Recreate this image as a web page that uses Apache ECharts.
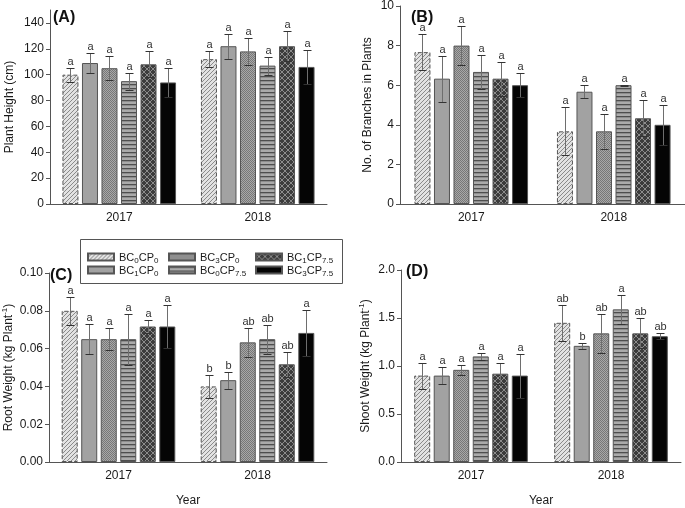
<!DOCTYPE html>
<html>
<head>
<meta charset="utf-8">
<script src="https://cdn.jsdelivr.net/npm/echarts@6/dist/echarts.min.js"></script>
<style>html,body{margin:0;padding:0;background:#fff}#main{width:685px;height:508px}</style>
</head>
<body>
<div id="main"></div>
<script>
"use strict";
var years = ['2017', '2018'];
var treatments = ['BC0CP0', 'BC1CP0', 'BC3CP0', 'BC0CP7.5', 'BC1CP7.5', 'BC3CP7.5'];

// rows = treatment, cols = [2017, 2018]
var heightMean = [[100, 112], [109, 122], [105, 118], [95, 107], [108, 122], [94, 106]];
var heightErr = [[5.5, 6], [8, 9.5], [9.5, 10.5], [6.5, 7], [10, 11.5], [11.5, 13]];
var heightLetter = [['a', 'a'], ['a', 'a'], ['a', 'a'], ['a', 'a'], ['a', 'a'], ['a', 'a']];

var branchMean = [[7.67, 3.67], [6.33, 5.67], [8.0, 3.67], [6.67, 6.0], [6.33, 4.33], [6.0, 4.0]];
var branchErr = [[0.9, 1.22], [1.17, 0.33], [1.0, 0.88], [0.88, 0.02], [0.86, 0.9], [0.6, 1.0]];
var branchLetter = [['a', 'a'], ['a', 'a'], ['a', 'a'], ['a', 'a'], ['a', 'a'], ['a', 'a']];

var rootMean = [[0.080, 0.040], [0.065, 0.0433], [0.065, 0.0633], [0.065, 0.065], [0.0717, 0.0517], [0.0717, 0.0683]];
var rootErr = [[0.0075, 0.006], [0.008, 0.0045], [0.006, 0.0075], [0.0135, 0.0077], [0.0036, 0.0067], [0.0113, 0.012]];
var rootLetter = [['a', 'b'], ['a', 'b'], ['a', 'ab'], ['a', 'ab'], ['a', 'ab'], ['a', 'a']];

var shootMean = [[0.90, 1.45], [0.90, 1.21], [0.96, 1.34], [1.10, 1.59], [0.92, 1.34], [0.90, 1.31]];
var shootErr = [[0.135, 0.185], [0.085, 0.03], [0.05, 0.205], [0.04, 0.15], [0.11, 0.155], [0.23, 0.03]];
var shootLetter = [['a', 'ab'], ['a', 'b'], ['a', 'ab'], ['a', 'a'], ['a', 'ab'], ['a', 'ab']];

var FONT = '"Liberation Sans", Arial, sans-serif';

//---------------- fill patterns
function makePattern(size, draw){
	var c = document.createElement('canvas'); c.width = size; c.height = size;
	var ctx = c.getContext('2d'); draw(ctx, size);
	return { image: c, repeat: 'repeat' };
}
var fills = [
	makePattern(4, function(ctx, s){
		ctx.fillStyle = '#e2e2e2'; ctx.fillRect(0, 0, s, s);
		ctx.strokeStyle = '#8a8a8a'; ctx.lineWidth = 1; ctx.beginPath();
		ctx.moveTo(0, s); ctx.lineTo(s, 0); ctx.moveTo(-1, 1); ctx.lineTo(1, -1); ctx.moveTo(s - 1, s + 1); ctx.lineTo(s + 1, s - 1);
		ctx.stroke();
	}),
	'#a2a2a2',
	makePattern(2, function(ctx){
		ctx.fillStyle = '#a8a8a8'; ctx.fillRect(0, 0, 2, 2);
		ctx.fillStyle = '#777'; ctx.fillRect(0, 0, 1, 1); ctx.fillRect(1, 1, 1, 1);
	}),
	makePattern(4, function(ctx, s){
		ctx.fillStyle = '#aaaaaa'; ctx.fillRect(0, 0, s, s);
		ctx.fillStyle = '#4e4e4e'; ctx.fillRect(0, 0, s, 1.3);
	}),
	makePattern(6, function(ctx, s){
		ctx.fillStyle = '#3c3c3c'; ctx.fillRect(0, 0, s, s);
		ctx.strokeStyle = '#8c8c8c'; ctx.lineWidth = 1; ctx.beginPath();
		ctx.moveTo(0, 0); ctx.lineTo(s, s); ctx.moveTo(0, s); ctx.lineTo(s, 0);
		ctx.stroke();
	}),
	'#050505'
];

var panels = [
	{ mean: heightMean, err: heightErr, letter: heightLetter },
	{ mean: branchMean, err: branchErr, letter: branchLetter },
	{ mean: rootMean, err: rootErr, letter: rootLetter },
	{ mean: shootMean, err: shootErr, letter: shootLetter }
];

var BAR_W = 16, BAR_PITCH = 19.52;

function makeRender(p){
	return function(params, api){
		var i = api.value(0), k = api.value(1), m = api.value(2), e = api.value(3);
		var hi = api.coord([i, m + e]), lo = api.coord([i, m - e]);
		var x = Math.round(hi[0] + (k - 2.5) * BAR_PITCH) + 0.5;
		var yh = Math.round(hi[1]) + 0.5, yl = Math.round(lo[1]) + 0.5;
		return { type: 'group', children: [
			{ type: 'line', shape: { x1: x, y1: yh, x2: x, y2: yl }, style: { stroke: '#6e6e6e', lineWidth: 1 } },
			{ type: 'line', shape: { x1: x - 4, y1: yh, x2: x + 4, y2: yh }, style: { stroke: '#333', lineWidth: 1 } },
			{ type: 'line', shape: { x1: x - 4, y1: yl, x2: x + 4, y2: yl }, style: { stroke: '#333', lineWidth: 1 } },
			{ type: 'text', style: { text: p.letter[k][i], x: x, y: yh - 1, align: 'center', verticalAlign: 'bottom',
				fontSize: 11, fontFamily: FONT, fill: '#333' } }
		]};
	};
}

var series = [];
panels.forEach(function(p, g){
	treatments.forEach(function(t, k){
		series.push({ type: 'bar', name: t, xAxisIndex: g, yAxisIndex: g, data: p.mean[k],
			barWidth: BAR_W, barGap: '22%', silent: true,
			itemStyle: { color: fills[k], borderColor: '#555', borderWidth: 1, borderType: k == 0 ? 'dashed' : 'solid' } });
	});
	var errData = [];
	treatments.forEach(function(t, k){ years.forEach(function(y, i){ errData.push([i, k, p.mean[k][i], p.err[k][i]]); }); });
	series.push({ type: 'custom', xAxisIndex: g, yAxisIndex: g, data: errData, renderItem: makeRender(p),
		encode: { x: 0, y: 2 }, z: 5, silent: true, clip: false });
});

var grids = [
	{ left: 50, top: 10, width: 277, height: 194 },
	{ left: 400, top: 6, width: 285, height: 198 },
	{ left: 48, top: 273, width: 279, height: 193 },
	{ left: 401, top: 270, width: 280, height: 196 }
];

function xAx(g, name){
	return { gridIndex: g, type: 'category', data: years,
		axisLine: { lineStyle: { color: '#555' } },
		axisTick: { alignWithLabel: true, length: 3, lineStyle: { color: '#555' } },
		axisLabel: { color: '#1a1a1a', fontSize: 12, margin: 8 },
		name: name, nameLocation: 'middle', nameGap: 33, nameTextStyle: { color: '#1a1a1a', fontSize: 12 } };
}
var nameRich = {
	n: { fontSize: 12, fontFamily: FONT, color: '#1a1a1a', lineHeight: 14, padding: [2, 0, 0, 0], verticalAlign: 'top' },
	p: { fontSize: 8, fontFamily: FONT, color: '#1a1a1a', lineHeight: 8, verticalAlign: 'top' }
};
function yAx(g, max, interval, digits, name, gap, hideMax){
	return { gridIndex: g, type: 'value', min: 0, max: max, interval: interval,
		splitLine: { show: false },
		axisLine: { show: true, lineStyle: { color: '#555' } },
		axisTick: { show: true, length: 4, lineStyle: { color: '#555' } },
		axisLabel: { color: '#1a1a1a', fontSize: 12, margin: 6, showMaxLabel: !hideMax,
			formatter: function(v){ return v.toFixed(digits); } },
		name: name, nameLocation: 'middle', nameGap: gap,
		nameTextStyle: { color: '#1a1a1a', fontSize: 12, rich: nameRich } };
}

function legendFmt(name){
	var m = name.match(/BC(\d)CP([\d.]+)/);
	return '{b|BC}{s|' + m[1] + '}{b|CP}{s|' + m[2] + '}';
}
var legendRich = {
	b: { fontSize: 11, fontFamily: FONT, color: '#1a1a1a', lineHeight: 10, verticalAlign: 'top' },
	s: { fontSize: 8, fontFamily: FONT, color: '#1a1a1a', lineHeight: 7, padding: [5, 0, 0, 0], verticalAlign: 'top' }
};
function legendCol(left, names){
	return { orient: 'vertical', left: left, top: 252, padding: 0, itemGap: 0, itemWidth: 26, itemHeight: 7,
		icon: 'rect', selectedMode: false, z: 10, data: names, formatter: legendFmt,
		textStyle: { rich: legendRich } };
}

function panelLabel(txt, x, y){
	return { type: 'text', x: x, y: y, style: { text: txt, fontSize: 16, fontWeight: 'bold', fontFamily: FONT,
		fill: '#111', verticalAlign: 'middle' } };
}

var option = {
	animation: false,
	textStyle: { fontFamily: FONT },
	grid: grids,
	xAxis: [xAx(0, ''), xAx(1, ''), xAx(2, 'Year'), xAx(3, 'Year')],
	yAxis: [
		yAx(0, 150, 20, 0, '{n|Plant Height (cm)}', 34, true),
		yAx(1, 10, 2, 0, '{n|No. of Branches in Plants}', 26, false),
		yAx(2, 0.1, 0.02, 2, '{n|Root Weight (kg Plant}{p|-1}{n|)}', 34, false),
		yAx(3, 2, 0.5, 1, '{n|Shoot Weight (kg Plant}{p|-1}{n|)}', 29, false)
	],
	legend: [
		legendCol(87, ['BC0CP0', 'BC1CP0']),
		legendCol(168, ['BC3CP0', 'BC0CP7.5']),
		legendCol(255, ['BC1CP7.5', 'BC3CP7.5'])
	],
	graphic: [
		{ type: 'rect', z: 1, shape: { x: 80.5, y: 239.5, width: 262, height: 44 }, style: { fill: '#fff', stroke: '#555', lineWidth: 1 } },
		panelLabel('(A)', 53, 18),
		panelLabel('(B)', 411, 18),
		panelLabel('(C)', 50, 276),
		panelLabel('(D)', 406, 272)
	],
	series: series
};

var chart = echarts.init(document.getElementById('main'));
chart.setOption(option);
</script>
</body>
</html>
